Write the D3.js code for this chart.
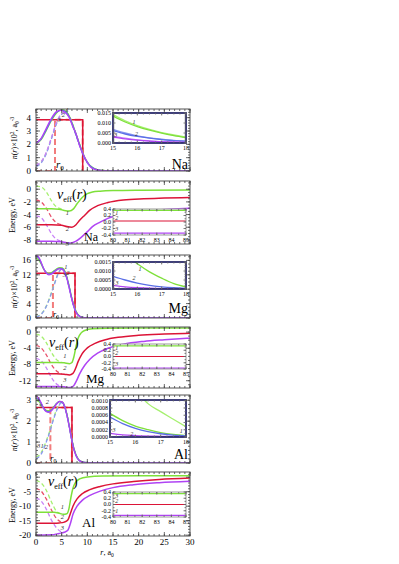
<!DOCTYPE html>
<html><head><meta charset="utf-8">
<script src="https://cdn.jsdelivr.net/npm/d3@7"></script>
<style>body{margin:0;background:#fff}svg{display:block;font-family:"Liberation Serif","DejaVu Serif",serif}</style>
</head><body><svg id="c" width="399" height="564"></svg>
<script>
// ---------- shared axis data ----------
const xTicks=[0,5,10,15,20,25,30];
const insetDensX=[15,16,17,18];
const insetEnX=[80,81,82,83,84,85];
const insetEnY=[-0.4,-0.2,0,0.2,0.4];

// ---------- Na ----------
const naDensTicks=[0,1,2,3,4];
const naN1=[[0,2.0],[1,2.35],[2,3.05],[3,3.8],[4,4.35],[5,4.6],[5.8,4.5],[6.5,4.1],[7.5,3.1],[8.5,2.0],[9.5,1.0],[10.5,0.42],[11.5,0.16],[12.5,0.06],[14,0.015],[16,0.003],[30,0]];
const naN2=[[0,2.1],[1,2.4],[2,3.1],[3,3.85],[4,4.4],[5,4.56],[5.8,4.45],[6.5,4.05],[7.5,3.05],[8.5,1.95],[9.5,0.95],[10.5,0.4],[11.5,0.14],[12.5,0.05],[14,0.01],[16,0.002],[30,0]];
const naN3=[[0,2.05],[1,2.45],[2,3.2],[3,3.95],[4,4.45],[4.8,4.55],[5.6,4.4],[6.5,4.0],[7.2,3.3],[7.8,2.8],[8.5,1.9],[9.2,1.25],[9.8,0.8],[10.5,0.35],[11.5,0.12],[12.5,0.04],[14,0.008],[30,0]];
const naD1=[[0,0.4],[1,0.65],[2,1.35],[3,2.45],[4,3.6],[5,4.3],[5.8,4.45],[6.5,4.1],[7.5,3.1],[8.5,2.0],[9.5,1.0],[10.5,0.42],[11.5,0.16],[12.5,0.06],[14,0.015],[30,0]];
const naD2=[[0,0.35],[1,0.6],[2,1.3],[3,2.4],[4,3.55],[5,4.25],[5.8,4.42],[6.5,4.05],[7.5,3.05],[8.5,1.95],[9.5,0.95],[10.5,0.4],[11.5,0.14],[12.5,0.05],[14,0.01],[30,0]];
const naD3=[[0,0.45],[1,0.7],[2,1.4],[3,2.5],[4,3.65],[5,4.3],[5.7,4.4],[6.5,4.0],[7.5,3.0],[8.5,1.9],[9.5,0.9],[10.5,0.37],[11.5,0.12],[12.5,0.04],[14,0.008],[30,0]];
const naStep=[[0,3.85],[9.1,3.85],[9.1,0]];
const naShell=[[0,0],[3.7,0],[3.7,3.85],[9.1,3.85],[9.1,0]];
const naEnTicks=[-8,-6,-4,-2,0];
const naV1=[[0,-3.1],[3,-3.1],[4.5,-3.15],[5.5,-3.35],[6.5,-3.45],[7.3,-3.1],[8,-2.3],[9,-1.3],[10,-0.7],[11,-0.45],[12.5,-0.3],[15,-0.2],[20,-0.15],[30,-0.12]];
const naV2=[[0,-5.6],[3,-5.6],[5,-5.7],[6,-5.9],[7,-6.0],[7.8,-5.6],[8.5,-4.9],[9.5,-4.1],[10.5,-3.3],[12,-2.6],[14,-2.1],[17,-1.7],[21,-1.5],[25,-1.4],[30,-1.3]];
const naV3=[[0,-8.2],[3,-8.2],[5,-8.3],[6,-8.45],[6.8,-8.5],[7.8,-8.2],[8.8,-7.6],[10,-6.7],[11,-5.9],[12.5,-5.2],[14,-4.6],[16,-4.1],[19,-3.6],[23,-3.3],[30,-3.0]];
const naVd1=[[0,0.5],[1,0.35],[2,-0.4],[3,-1.8],[4,-2.8],[5,-3.1]];
const naVd2=[[0,-1.7],[1,-2.0],[2,-3.0],[3,-4.4],[4,-5.3],[5,-5.6]];
const naVd3=[[0,-4.2],[1,-4.5],[2,-5.6],[3,-7.0],[4,-7.9],[5,-8.2]];
const naInTicks=[0,0.005,0.010,0.015];
const naIn1=[[15,0.0135],[15.5,0.0105],[16,0.0082],[16.5,0.0064],[17,0.0049],[17.5,0.0037],[18,0.0027]];
const naIn1d=[[15,0.0142],[15.5,0.0111],[16,0.0087],[16.5,0.0068],[17,0.0052],[17.5,0.0040],[18,0.0029]];
const naIn2=[[15,0.0062],[15.5,0.0045],[16,0.0033],[16.5,0.0024],[17,0.0017],[17.5,0.0012],[18,0.0008]];
const naIn2d=[[15,0.0068],[15.5,0.0050],[16,0.0036],[16.5,0.0026],[17,0.0019],[17.5,0.0013],[18,0.0009]];
const naIn3=[[15,0.0030],[15.5,0.0021],[16,0.0014],[16.5,0.0009],[17,0.0006],[17.5,0.0004],[18,0.0003]];
const naIn3d=[[15,0.0034],[15.5,0.0024],[16,0.0016],[16.5,0.0011],[17,0.0007],[17.5,0.0005],[18,0.0003]];
const naInV=[0.36,0.03,-0.34];

// ---------- Mg ----------
const mgDensTicks=[0,4,8,12,16];
const mgN1=[[0,16.6],[0.5,16.2],[1,15.0],[1.5,13.6],[2,12.7],[2.5,12.4],[3,12.6],[3.5,13.1],[4,13.6],[4.6,14.0],[5.1,13.9],[5.6,13.0],[6,11.5],[6.5,8.6],[7,5.4],[7.5,2.9],[8,1.3],[8.5,0.55],[9,0.2],[10,0.05],[12,0],[30,0]];
const mgN2=[[0,17.2],[0.5,16.7],[1,15.3],[1.5,13.7],[2,12.6],[2.5,12.2],[3,12.4],[3.5,12.9],[4,13.4],[4.6,13.8],[5.1,13.7],[5.6,12.8],[6,11.3],[6.5,8.4],[7,5.2],[7.5,2.7],[8,1.2],[8.5,0.5],[9,0.18],[10,0.04],[12,0],[30,0]];
const mgN3=[[0,17.6],[0.5,17.0],[1,15.5],[1.5,13.7],[2,12.5],[2.5,12.0],[3,12.2],[3.5,12.7],[4,13.3],[4.6,13.7],[5.1,13.5],[5.6,12.6],[6,11.0],[6.5,8.1],[7,5.0],[7.5,2.6],[8,1.1],[8.5,0.45],[9,0.15],[10,0.03],[12,0],[30,0]];
const mgD1=[[0,0.4],[0.5,0.6],[1,1.1],[1.5,2.0],[2,3.3],[2.5,5.0],[3,7.0],[3.5,9.2],[4,11.3],[4.5,13.0],[5,13.8],[5.4,13.5],[5.8,12.3],[6.2,10.2],[6.6,7.8],[7,5.4],[7.5,2.9],[8,1.3],[8.5,0.55],[9,0.2],[10,0.05],[12,0],[30,0]];
const mgD2=[[0,0.3],[0.5,0.5],[1,1.0],[1.5,1.9],[2,3.2],[2.5,4.9],[3,6.9],[3.5,9.0],[4,11.1],[4.5,12.8],[5,13.6],[5.4,13.4],[5.8,12.1],[6.2,10.0],[6.6,7.6],[7,5.2],[7.5,2.7],[8,1.2],[8.5,0.5],[9,0.18],[10,0.04],[12,0],[30,0]];
const mgStep=[[0,12.4],[7.6,12.4],[7.6,0]];
const mgShell=[[0,0],[3.3,0],[3.3,12.4],[7.6,12.4],[7.6,0]];
const mgEnTicks=[-12,-8,-4,0];
const mgV1=[[0,-7.5],[4,-7.5],[5.5,-7.6],[6.5,-7.8],[7,-7.5],[7.4,-6],[7.8,-3.5],[8.2,-1.5],[8.8,-0.2],[9.5,0.4],[11,0.8],[14,0.95],[20,1.0],[30,1.0]];
const mgV2=[[0,-10.3],[4,-10.3],[5.5,-10.4],[6.5,-10.6],[7.2,-10.2],[7.7,-9],[8.2,-7.3],[9,-5.3],[10,-3.9],[11.5,-2.8],[13.5,-1.9],[16,-1.3],[20,-0.8],[25,-0.5],[30,-0.3]];
const mgV3=[[0,-13.4],[4,-13.4],[5.5,-13.5],[6.5,-13.7],[7.3,-13.3],[7.9,-12],[8.5,-10.3],[9.5,-8.2],[10.5,-6.7],[12,-5.2],[14,-4.0],[17,-3.0],[21,-2.3],[25,-1.9],[30,-1.5]];
const mgVd1=[[0,-0.5],[1,-1.0],[2,-2.6],[3,-5.0],[4,-6.8],[5,-7.5]];
const mgVd2=[[0,-3.3],[1,-3.9],[2,-5.6],[3,-8.0],[4,-9.6],[5,-10.3]];
const mgVd3=[[0,-6.5],[1,-7.1],[2,-8.8],[3,-11.2],[4,-12.8],[5,-13.4]];
const mgInTicks=[0,0.0005,0.0010,0.0015];
const mgIn1=[[15.8,0.0016],[16,0.0014],[16.5,0.00095],[17,0.0006],[17.5,0.0003],[18,0.00012]];
const mgIn2=[[15,0.0007],[15.5,0.0005],[16,0.00033],[16.5,0.0002],[17,0.00012],[17.5,0.00007],[18,0.00004]];
const mgIn3=[[15,0.0002],[15.5,0.00012],[16,0.00007],[17,0.00002],[18,0.00001]];
const mgInV=[0.34,0.0,-0.37];

// ---------- Al ----------
const alDensTicks=[0,1,2,3];
const alN1=[[0,3.0],[0.5,2.95],[1,2.8],[1.5,2.62],[2,2.52],[2.5,2.5],[3,2.56],[3.5,2.7],[4,2.85],[4.6,2.95],[5.1,2.92],[5.6,2.7],[6,2.35],[6.5,1.75],[7,1.1],[7.5,0.6],[8,0.28],[8.5,0.12],[9.5,0.03],[11,0],[30,0]];
const alN2=[[0,3.1],[0.5,3.03],[1,2.85],[1.5,2.62],[2,2.48],[2.5,2.45],[3,2.52],[3.5,2.67],[4,2.83],[4.6,2.93],[5.1,2.9],[5.6,2.68],[6,2.33],[6.5,1.73],[7,1.08],[7.5,0.58],[8,0.26],[8.5,0.11],[9.5,0.03],[11,0],[30,0]];
const alN3=[[0,3.2],[0.5,3.1],[1,2.88],[1.5,2.6],[2,2.45],[2.5,2.42],[3,2.5],[3.5,2.65],[4,2.82],[4.6,2.95],[5.1,2.92],[5.6,2.7],[6,2.3],[6.5,1.7],[7,1.05],[7.5,0.55],[8,0.25],[8.5,0.1],[9.5,0.02],[11,0],[30,0]];
const alD1=[[0,0.3],[0.5,0.35],[1,0.5],[1.5,0.75],[2,1.05],[2.5,1.4],[3,1.8],[3.5,2.2],[4,2.55],[4.5,2.8],[5,2.9],[5.5,2.75],[6,2.35],[6.5,1.75],[7,1.1],[7.5,0.6],[8,0.28],[8.5,0.12],[9.5,0.03],[11,0],[30,0]];
const alD2=[[0,0.22],[0.5,0.28],[1,0.42],[1.5,0.68],[2,1.0],[2.5,1.35],[3,1.75],[3.5,2.15],[4,2.5],[4.5,2.76],[5,2.87],[5.5,2.72],[6,2.32],[6.5,1.72],[7,1.07],[7.5,0.57],[8,0.26],[8.5,0.11],[9.5,0.03],[11,0],[30,0]];
const alStep=[[0,2.65],[7.0,2.65],[7.0,0]];
const alShell=[[0,0],[2.8,0],[2.8,2.65],[7.0,2.65],[7.0,0]];
const alEnTicks=[-20,-15,-10,-5,0];
const alV1=[[0,-12.1],[3.5,-12.1],[4.5,-12.4],[5.3,-12.8],[6,-12.6],[6.4,-11],[6.8,-7],[7.2,-3.8],[7.7,-1.8],[8.5,-0.6],[10,0.1],[13,0.4],[20,0.5],[30,0.5]];
const alV2=[[0,-15.9],[3.5,-15.9],[4.5,-15.8],[5.5,-15.5],[6.2,-14.8],[6.7,-12.5],[7.2,-10],[8,-7.5],[9,-5.7],[10.5,-4.3],[12.5,-3.2],[15,-2.3],[19,-1.5],[24,-0.8],[30,-0.3]];
const alV3=[[0,-20],[3,-19.9],[4.5,-19.4],[5.5,-19],[6.2,-18.3],[6.7,-16],[7.2,-12.8],[8,-10],[9,-8],[10.5,-6.3],[12.5,-4.8],[15,-3.6],[19,-2.6],[24,-1.9],[30,-1.4]];
const alVd1=[[0,-1.2],[1,-2.0],[2,-4.5],[3,-8.5],[4,-11.8],[5,-12.8]];
const alVd2=[[0,-3.9],[1,-4.8],[2,-7.5],[3,-11.3],[4,-14.3],[5,-15.6]];
const alVd3=[[0,-7.2],[1,-8.2],[2,-11],[3,-14.8],[4,-17.5],[5,-19]];
const alInTicks=[0,0.0002,0.0004,0.0006,0.0008,0.0010];
const alIn1=[[15,0.00065],[15.5,0.00045],[16,0.0003],[16.5,0.0002],[17,0.00012],[17.5,0.00007],[18,0.00004]];
const alIn1b=[[16.35,0.00102],[16.5,0.00092],[17,0.0007],[17.5,0.00049],[18,0.00028]];
const alIn2=[[15,0.00055],[15.5,0.00037],[16,0.00024],[16.5,0.00015],[17,0.00009],[17.5,0.00005],[18,0.00003]];
const alIn3=[[15,0.0001],[15.5,0.00006],[16,0.00004],[17,0.00002],[18,0.00001]];
const alInV=[0.35,0.0,-0.35];

// ---------- colours ----------
const C={g:"#7ee03a",gd:"#a6f070",b:"#5a6ee6",bd:"#8a98f2",p:"#b044f4",pd:"#c983f8",r:"#dc1437",rd:"#e8506a",pink:"#f27c7c"};

const svg=d3.select("#c");
const X0=36,X1=190;
const x=d3.scaleLinear().domain([0,30]).range([X0,X1]);
let clipN=0;

function drawLines(g,xs,ys,series){
  series.forEach(s=>{
    const line=d3.line().x(d=>xs(d[0])).y(d=>ys(d[1])).curve(s.lin?d3.curveLinear:d3.curveMonotoneX);
    g.append("path").datum(s.data).attr("d",line).attr("fill","none")
      .attr("stroke",s.c).attr("stroke-width",s.w||1.3)
      .attr("stroke-dasharray",s.dash||null);
  });
}
function ticksFrame(g,xs,ys,xMaj,xMin,yMaj,yMin,col,big,small){
  const [xa,xb]=xs.range(), [yb,ya]=ys.range();
  const t=g.append("g").attr("stroke",col).attr("stroke-width",0.8);
  const add=(arr,len,isX)=>arr.forEach(v=>{
    if(isX){const p=xs(v);
      t.append("line").attr("x1",p).attr("x2",p).attr("y1",yb).attr("y2",yb-len);
      t.append("line").attr("x1",p).attr("x2",p).attr("y1",ya).attr("y2",ya+len);}
    else{const p=ys(v);
      t.append("line").attr("y1",p).attr("y2",p).attr("x1",xa).attr("x2",xa+len);
      t.append("line").attr("y1",p).attr("y2",p).attr("x1",xb).attr("x2",xb-len);}
  });
  add(xMin,small,true);add(xMaj,big,true);add(yMin,small,false);add(yMaj,big,false);
}
function rng(a,b,s){const r=[];for(let v=a;v<=b+1e-9;v+=s)r.push(+v.toFixed(6));return r;}

function mainPanel(cfg){
  const y=d3.scaleLinear().domain(cfg.yDom).range([cfg.bottom,cfg.top]);
  const g=svg.append("g");
  const id="cl"+(clipN++);
  svg.append("clipPath").attr("id",id).append("rect").attr("x",X0).attr("y",cfg.top).attr("width",X1-X0).attr("height",cfg.bottom-cfg.top);
  const cg=g.append("g").attr("clip-path",`url(#${id})`);
  drawLines(cg,x,y,cfg.series);
  cfg.y=y;cfg.g=g;
  return cfg;
}
function finishMain(cfg){
  const g=svg.append("g"), y=cfg.y;
  g.append("rect").attr("x",X0).attr("y",cfg.top).attr("width",X1-X0).attr("height",cfg.bottom-cfg.top)
    .attr("fill","none").attr("stroke","#555").attr("stroke-width",1);
  ticksFrame(g,x,y,xTicks,rng(0,30,1),cfg.yTicks,rng(cfg.yMin[0],cfg.yMin[1],cfg.yMin[2]),"#444",4,2);
  g.selectAll(".yt").data(cfg.yTicks).enter().append("text")
    .attr("x",X0-5).attr("y",d=>y(d)).attr("dy","0.33em").attr("text-anchor","end")
    .attr("font-size",9).text(d=>String(d));
}
function inset(cfg){
  const xs=d3.scaleLinear().domain(cfg.xDom).range([cfg.l,cfg.r]);
  const ys=d3.scaleLinear().domain(cfg.yDom).range([cfg.b,cfg.t]);
  const g=svg.append("g");
  g.append("rect").attr("x",cfg.l).attr("y",cfg.t).attr("width",cfg.r-cfg.l).attr("height",cfg.b-cfg.t).attr("fill","#fff");
  const id="cl"+(clipN++);
  svg.append("clipPath").attr("id",id).append("rect").attr("x",cfg.l).attr("y",cfg.t).attr("width",cfg.r-cfg.l).attr("height",cfg.b-cfg.t);
  const cg=g.append("g").attr("clip-path",`url(#${id})`);
  drawLines(cg,xs,ys,cfg.series);
  g.append("rect").attr("x",cfg.l).attr("y",cfg.t).attr("width",cfg.r-cfg.l).attr("height",cfg.b-cfg.t)
    .attr("fill","none").attr("stroke",cfg.fc).attr("stroke-width",cfg.fw);
  ticksFrame(g,xs,ys,cfg.xTicks,cfg.xMinor,cfg.yTicks,cfg.yMinor,"#666",2.5,1.5);
  g.selectAll(".xt").data(cfg.xTicks).enter().append("text").attr("x",d=>xs(d)).attr("y",cfg.b+7)
    .attr("text-anchor","middle").attr("font-size",6).text(d=>String(d));
  g.selectAll(".yt").data(cfg.yTicks).enter().append("text").attr("x",cfg.l-2).attr("y",d=>ys(d)).attr("dy","0.33em")
    .attr("text-anchor","end").attr("font-size",6).text(cfg.fmt);
  (cfg.labels||[]).forEach(L=>g.append("text").attr("x",xs(L[1])).attr("y",ys(L[2])).attr("font-size",6).attr("font-style","italic").attr("fill","#333").text(L[0]));
}
function label(t,xp,yp,size,anchor){svg.append("text").attr("x",xp).attr("y",yp).attr("font-size",size).attr("text-anchor",anchor||"start").text(t);}
function num(t,xp,yp){svg.append("text").attr("x",xp).attr("y",yp).attr("font-size",6.5).attr("font-style","italic").attr("fill","#333").text(t);}
function veff(xp,yp){
  const t=svg.append("text").attr("x",xp).attr("y",yp).attr("font-size",14);
  t.append("tspan").attr("font-style","italic").text("v");
  t.append("tspan").attr("font-size",8).attr("dy",3).text("eff");
  t.append("tspan").attr("dy",-3).text("(");
  t.append("tspan").attr("font-style","italic").text("r");
  t.append("tspan").text(")");
}
function r0(xp,yp,s){
  const t=svg.append("text").attr("x",xp).attr("y",yp).attr("font-size",s);
  t.append("tspan").attr("font-style","italic").text("r");
  t.append("tspan").attr("font-size",s*0.65).attr("dy",s*0.2).text("0");
}
function ylabDens(cy){
  const t=svg.append("text").attr("transform",`translate(17,${cy}) rotate(-90)`).attr("text-anchor","middle").attr("font-size",8);
  t.append("tspan").attr("font-style","italic").text("n");
  t.append("tspan").text("(");
  t.append("tspan").attr("font-style","italic").text("r");
  t.append("tspan").text(")×10");
  t.append("tspan").attr("font-size",5.5).attr("dy",-3).text("2");
  t.append("tspan").attr("dy",3).text(", a");
  t.append("tspan").attr("font-size",5.5).attr("dy",2).text("0");
  t.append("tspan").attr("font-size",5.5).attr("dy",-5).text("-3");
}
function ylabEn(cy){
  svg.append("text").attr("transform",`translate(15,${cy}) rotate(-90)`).attr("text-anchor","middle").attr("font-size",8).text("Energy, eV");
}
const dashS="4,2.5", stepDash="6,3";
const f1=d=>d.toFixed(1).replace("-0.0","0.0");

// ===== Panel 1: Na density =====
const p1=mainPanel({top:109,bottom:171,yDom:[0,4.65],yTicks:naDensTicks,yMin:[0,4.6,0.2],series:[
  {data:naShell,c:C.pink,w:2,dash:stepDash,lin:true},
  {data:naStep,c:C.r,w:1.5,lin:true},
  {data:naD1,c:C.gd,dash:dashS},{data:naD2,c:C.bd,dash:dashS},{data:naD3,c:C.pd,dash:dashS},
  {data:naN1,c:C.g},{data:naN2,c:C.b},{data:naN3,c:C.p}]});
inset({l:113,r:186,t:113,b:143,xDom:[15,18],yDom:[0,0.015],xTicks:insetDensX,xMinor:rng(15,18,0.25),yTicks:naInTicks,yMinor:rng(0,0.015,0.001),
  fmt:d=>d.toFixed(3),fc:"#2c2c6c",fw:1.8,series:[
  {data:naIn1d,c:C.gd},{data:naIn1,c:C.g},{data:naIn2d,c:C.bd},{data:naIn2,c:C.b},{data:naIn3d,c:C.pd},{data:naIn3,c:C.p}],
  labels:[["1",15.8,0.0093],["2",15.9,0.0037],["3",15.05,0.0028]]});
finishMain(p1);

// ===== Panel 2: Na energy =====
const p2=mainPanel({top:181,bottom:244,yDom:[-8.65,1.3],yTicks:naEnTicks,yMin:[-8.5,1,0.5],series:[
  {data:naVd1,c:C.gd,dash:dashS},{data:naVd2,c:C.rd,dash:dashS},{data:naVd3,c:C.pd,dash:dashS},
  {data:naV1,c:C.g,w:1.5},{data:naV2,c:C.r,w:1.5},{data:naV3,c:C.p,w:1.5}]});
inset({l:113,r:186,t:209,b:235,xDom:[80,85],yDom:[-0.4,0.4],xTicks:insetEnX,xMinor:rng(80,85,0.5),yTicks:insetEnY,yMinor:rng(-0.4,0.4,0.1),
  fmt:f1,fc:"#9a9a9a",fw:1,series:[
  {data:[[80,naInV[0]],[85,naInV[0]]],c:C.g,w:1.3},{data:[[80,naInV[1]],[85,naInV[1]]],c:C.r,w:1.1},{data:[[80,naInV[2]],[85,naInV[2]]],c:C.p,w:1.3}],
  labels:[["1",80.15,0.22],["2",80.15,0.06],["3",80.15,-0.28]]});
finishMain(p2);

// ===== Panel 3: Mg density =====
const p3=mainPanel({top:255,bottom:318,yDom:[0,17.5],yTicks:mgDensTicks,yMin:[0,17,1],series:[
  {data:mgShell,c:C.pink,w:2,dash:stepDash,lin:true},
  {data:mgStep,c:C.r,w:1.5,lin:true},
  {data:mgD1,c:C.gd,dash:dashS},{data:mgD2,c:C.bd,dash:dashS},
  {data:mgN1,c:C.g},{data:mgN2,c:C.b},{data:mgN3,c:C.p}]});
inset({l:113,r:186,t:262,b:289,xDom:[15,18],yDom:[0,0.0015],xTicks:insetDensX,xMinor:rng(15,18,0.25),yTicks:mgInTicks,yMinor:rng(0,0.0015,0.0001),
  fmt:d=>d.toFixed(4),fc:"#2c2c6c",fw:1.8,series:[
  {data:mgIn1,c:C.g},{data:mgIn2,c:C.b},{data:mgIn3,c:C.p}],
  labels:[["1",16.05,0.0010],["2",15.8,0.0005],["3",15.1,0.00025]]});
finishMain(p3);

// ===== Panel 4: Mg energy =====
const p4=mainPanel({top:327,bottom:388,yDom:[-13.8,1.25],yTicks:mgEnTicks,yMin:[-13,1,1],series:[
  {data:mgVd1,c:C.gd,dash:dashS},{data:mgVd2,c:C.rd,dash:dashS},{data:mgVd3,c:C.pd,dash:dashS},
  {data:mgV1,c:C.g,w:1.5},{data:mgV2,c:C.r,w:1.5},{data:mgV3,c:C.p,w:1.5}]});
inset({l:113,r:186,t:344,b:369,xDom:[80,85],yDom:[-0.4,0.4],xTicks:insetEnX,xMinor:rng(80,85,0.5),yTicks:insetEnY,yMinor:rng(-0.4,0.4,0.1),
  fmt:f1,fc:"#9a9a9a",fw:1,series:[
  {data:[[80,mgInV[0]],[85,mgInV[0]]],c:C.g,w:1.3},{data:[[80,mgInV[1]],[85,mgInV[1]]],c:C.r,w:1.1},{data:[[80,mgInV[2]],[85,mgInV[2]]],c:C.p,w:1.3}],
  labels:[["1",80.15,0.2],["2",80.15,0.04],["3",80.15,-0.3]]});
finishMain(p4);

// ===== Panel 5: Al density =====
const p5=mainPanel({top:395,bottom:463,yDom:[0,3.25],yTicks:alDensTicks,yMin:[0,3.2,0.2],series:[
  {data:alShell,c:C.pink,w:2,dash:stepDash,lin:true},
  {data:alStep,c:C.r,w:1.5,lin:true},
  {data:alD1,c:C.gd,dash:dashS},{data:alD2,c:C.bd,dash:dashS},
  {data:alN1,c:C.g},{data:alN2,c:C.b},{data:alN3,c:C.p}]});
inset({l:110,r:186,t:400,b:437,xDom:[15,18],yDom:[0,0.00102],xTicks:insetDensX,xMinor:rng(15,18,0.25),yTicks:alInTicks,yMinor:rng(0,0.001,0.0001),
  fmt:d=>d.toFixed(4),fc:"#2c2c6c",fw:1.8,series:[
  {data:alIn1b,c:C.gd},{data:alIn1,c:C.g},{data:alIn2,c:C.b},{data:alIn3,c:C.p}],
  labels:[["3",15.1,0.00015],["2",15.8,0.00004],["1",17.75,0.0001]]});
finishMain(p5);

// ===== Panel 6: Al energy =====
const p6=mainPanel({top:472,bottom:536,yDom:[-20.3,1.8],yTicks:alEnTicks,yMin:[-20,1,1],series:[
  {data:alVd1,c:C.gd,dash:dashS},{data:alVd2,c:C.rd,dash:dashS},{data:alVd3,c:C.pd,dash:dashS},
  {data:alV1,c:C.g,w:1.5},{data:alV2,c:C.r,w:1.5},{data:alV3,c:C.p,w:1.5}]});
inset({l:113,r:186,t:492,b:517,xDom:[80,85],yDom:[-0.4,0.4],xTicks:insetEnX,xMinor:rng(80,85,0.5),yTicks:insetEnY,yMinor:rng(-0.4,0.4,0.1),
  fmt:f1,fc:"#9a9a9a",fw:1,series:[
  {data:[[80,alInV[0]],[85,alInV[0]]],c:C.g,w:1.3},{data:[[80,alInV[1]],[85,alInV[1]]],c:C.r,w:1.1},{data:[[80,alInV[2]],[85,alInV[2]]],c:C.p,w:1.3}],
  labels:[["3",80.15,0.2],["2",80.15,0.04],["1",80.15,-0.28]]});
finishMain(p6);

// bottom x axis labels
svg.selectAll(".xl").data(xTicks).enter().append("text").attr("x",d=>x(d)).attr("y",545)
  .attr("text-anchor","middle").attr("font-size",9).text(d=>String(d));
{const t=svg.append("text").attr("x",107).attr("y",555).attr("text-anchor","middle").attr("font-size",8);
 t.append("tspan").attr("font-style","italic").text("r");
 t.append("tspan").text(", a");
 t.append("tspan").attr("font-size",5.5).attr("dy",2).text("0");}

// axis titles
ylabDens(138);ylabEn(215);ylabDens(287);ylabEn(358);ylabDens(430);ylabEn(505);

// element labels
label("Na",188,169,14,"end");
label("Na",84,241,12);
label("Mg",188,313,14,"end");
label("Mg",86,383,13);
label("Al",188,459,14,"end");
label("Al",82,527,13);
veff(57,199);veff(49,347);veff(48,486);
r0(56,168,11);r0(53,317,8);r0(50,461,9);

// curve number labels
num("1",x(5.8),p1.y(4.45));num("2",x(5.0),p1.y(4.05));num("3",x(4.2),p1.y(3.7));
num("1",x(5.8),p2.y(-4.1));num("2",x(5.8),p2.y(-6.6));num("3",x(5.8),p2.y(-9.0));
num("1",x(5.5),p3.y(13.6));num("2",x(5.9),p3.y(12.0));num("3",x(5.2),p3.y(11.5));
num("1",x(5.3),p4.y(-6.5));num("2",x(5.3),p4.y(-9.3));num("3",x(5.3),p4.y(-12.4));
num("1",x(0.2),p5.y(2.95));num("2",x(1.9),p5.y(2.8));num("3",x(0.5),p5.y(2.62));
num("3",x(0.2),p5.y(0.7));num("1",x(0.9),p5.y(0.74));num("2",x(1.7),p5.y(0.66));
num("1",x(4.8),p6.y(-10.9));num("2",x(4.8),p6.y(-14.6));num("3",x(4.8),p6.y(-18.2));
</script></body></html>
